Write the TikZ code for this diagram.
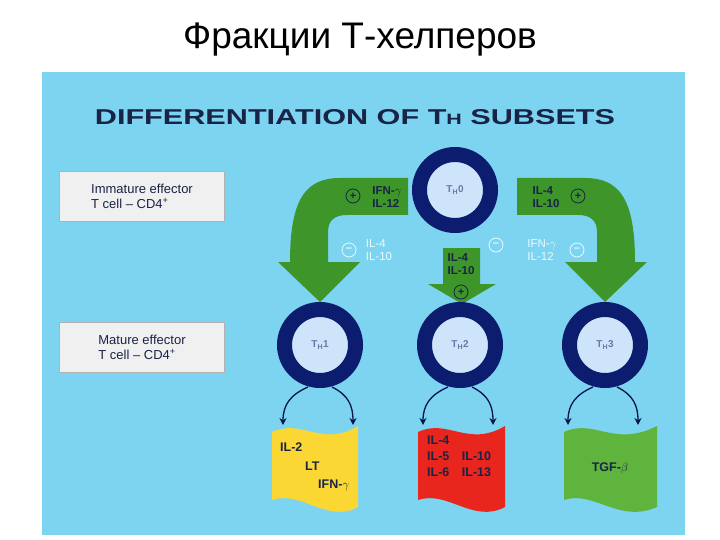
\documentclass[tikz,border=0pt]{standalone}
\usepackage{fontspec}
\setmainfont{Liberation Sans}
\usetikzlibrary{arrows.meta,calc}
\definecolor{panel}{RGB}{125,212,240}
\definecolor{navy}{RGB}{12,28,110}
\definecolor{cellin}{RGB}{205,228,250}
\definecolor{garrow}{RGB}{62,150,42}
\definecolor{ybox}{RGB}{250,215,50}
\definecolor{rbox}{RGB}{232,38,30}
\definecolor{gbox}{RGB}{95,180,62}
\definecolor{ttl}{RGB}{25,35,70}
\tikzset{
 cell/.style={circle,draw=navy,line width=15pt,fill=cellin,minimum size=71pt,inner sep=0pt,font=\fontsize{10}{11}\selectfont\bfseries,text=navy!60},
 lab/.style={font=\fontsize{11.5}{13}\selectfont\bfseries,align=left,text=ttl,inner sep=0pt},
 labw/.style={font=\fontsize{11.5}{13}\selectfont,align=left,text=white!85!panel,inner sep=0pt},
 sgn/.style={circle,draw=#1,line width=0.8pt,minimum size=14pt,inner sep=0pt,font=\fontsize{11}{11}\selectfont\bfseries,text=#1},
 infobox/.style={draw=gray!60,fill=gray!12,minimum width=165pt,minimum height=50pt,align=left,font=\fontsize{13}{15}\selectfont,text=ttl},
 carr/.style={-{Stealth[length=7pt,width=7pt]},line width=1.3pt,draw=navy!70!black},
 cyto/.style={font=\fontsize{12.5}{16}\selectfont\bfseries,inner sep=0pt,text=ttl},
}
\begin{document}
\begin{tikzpicture}[x=1pt,y=-1pt]
\useasboundingbox (0,0) rectangle (720,540);
\fill[white] (0,0) rectangle (720,540);
\node[font=\fontsize{37}{42}\selectfont] (title) at (360,40) {Фракции Т-хелперов};
\fill[panel] (42,72) rectangle (685,535);
\node[text=ttl] (head) at (355,117) {\resizebox{520pt}{15pt}{\bfseries DIFFERENTIATION OF T{\fontsize{7}{8}\selectfont H} SUBSETS}};
\node[infobox] (imm) at (142,196) {Immature effector\\T cell -- CD4\textsuperscript{+}};
\node[infobox] (mat) at (142,347) {Mature effector\\T cell -- CD4\textsuperscript{+}};
% arrows
\def\bentarrow{(408,178) -- (340,178) .. controls (305,178) and (290,200) .. (290,262) -- (278,262) -- (320,302) -- (360,262) -- (328,262) -- (328,232) .. controls (328,220) and (335,215) .. (347,215) -- (408,215) -- cycle}
\fill[garrow] \bentarrow;
\begin{scope}[xshift=925pt,xscale=-1]
\fill[garrow] \bentarrow;
\end{scope}
\fill[garrow] (443,248) -- (480,248) -- (480,284) -- (496,284) -- (462,304) -- (428,284) -- (443,284) -- cycle;
% labels
\node[lab] (l1) at (387,197) {IFN-$\gamma$\\IL-12};
\node[sgn=ttl] (p1) at (353,196) {+};
\node[labw] (l2) at (379,250) {IL-4\\IL-10};
\node[sgn=white!85!panel] (m1) at (349,250) {--};
\node[lab] (l3) at (546,197) {IL-4\\IL-10};
\node[sgn=ttl] (p3) at (578,196) {+};
\node[labw] (l4) at (542,250) {IFN-$\gamma$\\IL-12};
\node[sgn=white!85!panel] (m3) at (577,250) {--};
\node[sgn=white!85!panel] (m2) at (496,245) {--};
\node[lab] (l5) at (461,264) {IL-4\\IL-10};
\node[sgn=ttl] (p2) at (461,292) {+};
% cells
\node[cell] (th0) at (455,190) {T\textsubscript{H}0};
\node[cell] (th1) at (320,345) {T\textsubscript{H}1};
\node[cell] (th2) at (460,345) {T\textsubscript{H}2};
\node[cell] (th3) at (605,345) {T\textsubscript{H}3};
% cytokine boxes
\def\wave#1#2{(#1,432) .. controls (#1+30,418) and (#1+50,448) .. (#1+#2,426) -- (#1+#2,507) .. controls (#1+55,524) and (#1+30,490) .. (#1,500) -- cycle}
\fill[ybox] \wave{272}{86};
\fill[rbox] \wave{418}{87};
\fill[gbox] \wave{564}{93};
\node[cyto,anchor=west] (y1) at (280,447) {IL-2};
\node[cyto,anchor=west] (y2) at (305,466) {LT};
\node[cyto,anchor=west] (y3) at (318,485) {IFN-$\gamma$};
\node[cyto,align=left,anchor=north west] (r1) at (427,436) {IL-4\\IL-5\quad IL-10\\IL-6\quad IL-13};
\node[cyto] (g1) at (610,468) {TGF-$\beta$};
\foreach \c/\n in {th1/1,th2/2,th3/3}{
 \coordinate (a\n) at ($(\c)+(-37,80)$);
 \coordinate (b\n) at ($(\c)+(33,80)$);
 \draw[carr] ($(\c)+(-12,42)$) .. controls ($(\c)+(-30,50)$) and ($(\c)+(-37,60)$) .. (a\n);
 \draw[carr] ($(\c)+(12,42)$) .. controls ($(\c)+(28,50)$) and ($(\c)+(33,60)$) .. (b\n);
}
\end{tikzpicture}
\end{document}
